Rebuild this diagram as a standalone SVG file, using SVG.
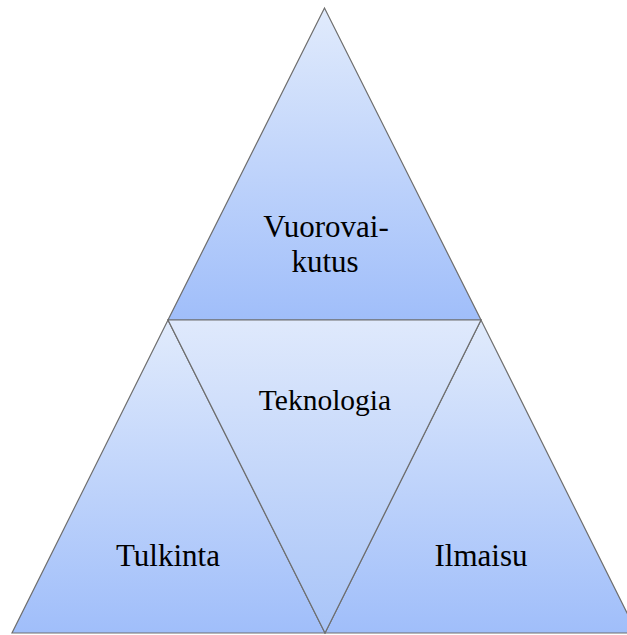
<svg xmlns="http://www.w3.org/2000/svg" width="627" height="635" viewBox="0 0 627 635">
<defs>
<linearGradient id="g" x1="0" y1="0" x2="0" y2="1">
<stop offset="0" stop-color="#e1ebfc"/>
<stop offset="1" stop-color="#a0befa"/>
</linearGradient>
<linearGradient id="gi" x1="0" y1="0" x2="0" y2="1">
<stop offset="0" stop-color="#dfe9fc"/>
<stop offset="1" stop-color="#a8c4f8"/>
</linearGradient>
<style>
.t{stroke:#6e6e6e;stroke-width:1.2;stroke-linejoin:miter}
.l{font-family:'Liberation Serif','Times New Roman','DejaVu Serif',serif;font-size:31px;fill:#000;text-anchor:middle}
</style>
</defs>
<rect width="627" height="635" fill="#fff"/>
<g id="top"><polygon class="t" fill="url(#g)" points="324.5,8 168,320 481,320"/><text class="l" x="326" y="237">Vuorovai-</text><text class="l" x="325" y="272">kutus</text></g>
<g id="left"><polygon class="t" fill="url(#g)" points="168,320 12,633 325,633"/><text class="l" x="168" y="566">Tulkinta</text></g>
<g id="right"><polygon class="t" fill="url(#g)" points="481,320 325,633 637,633"/><text class="l" x="481" y="566">Ilmaisu</text></g>
<g id="middle"><polygon class="t" fill="url(#gi)" points="168,320 481,320 325,633"/><text class="l" x="325" y="410" style="font-size:29.5px">Teknologia</text></g>
<g id="connectors"/>
</svg>
